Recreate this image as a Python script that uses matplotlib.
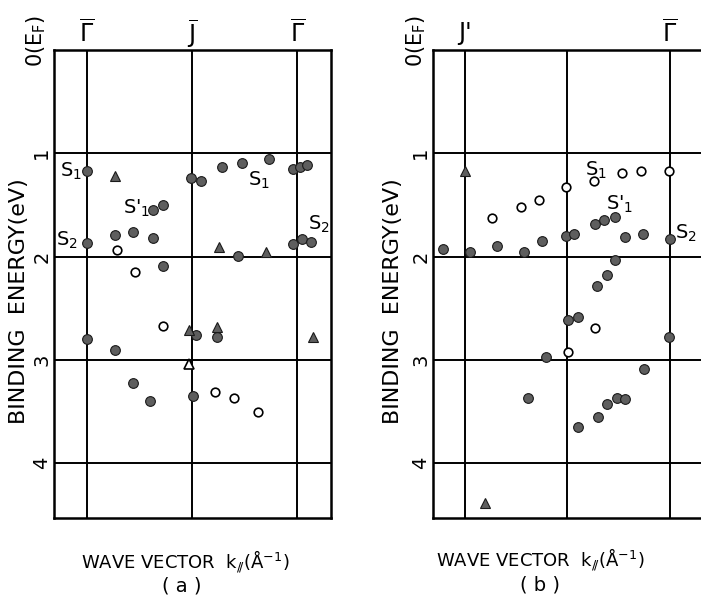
import numpy as np
import matplotlib
matplotlib.use('Agg')
import matplotlib.pyplot as plt
import matplotlib.transforms as mtrans

plt.rcParams['font.family'] = ['DejaVu Sans']
plt.rcParams['mathtext.fontset'] = 'dejavusans'

# panel (a) data, x in units of symmetry-point spacing (G=0, J=1, G=2)
a_fill_x = [0.0, 0.99, 1.08, 1.28, 1.47, 1.73, 1.96, 2.03, 2.09, 0.63, 0.72, 0.27, 0.44, 0.63,
            0.0, 1.96, 2.05, 2.13, 1.44, 0.72, 0.0, 0.27, 0.44, 0.60, 1.04, 1.24, 1.01]
a_fill_y = [1.17, 1.24, 1.27, 1.13, 1.09, 1.06, 1.15, 1.13, 1.11, 1.55, 1.50, 1.79, 1.76, 1.82,
            1.87, 1.88, 1.83, 1.86, 1.99, 2.09, 2.80, 2.90, 3.22, 3.40, 2.76, 2.78, 3.35]
a_open_x = [0.29, 0.46, 0.72, 1.22, 1.40, 1.63]
a_open_y = [1.94, 2.15, 2.67, 3.31, 3.37, 3.50]
a_tri_x = [0.27, 1.26, 1.70, 0.97, 1.24, 2.15]
a_tri_y = [1.22, 1.91, 1.96, 2.71, 2.68, 2.78]
a_otri_x = [0.97]
a_otri_y = [3.04]

# panel (b) data (J'=0, G=2)
b_fill_x = [-0.21, 0.05, 0.31, 0.58, 0.75, 0.99, 1.07, 1.27, 1.36, 1.47, 1.56, 1.74, 2.0, 1.47,
            1.39, 1.29, 1.01, 1.10, 0.79, 0.62, 1.10, 1.30, 1.39, 1.48, 1.56, 1.75, 1.99]
b_fill_y = [1.93, 1.96, 1.90, 1.96, 1.85, 1.80, 1.78, 1.68, 1.65, 1.62, 1.81, 1.78, 1.83, 2.03,
            2.18, 2.28, 2.61, 2.58, 2.97, 3.37, 3.65, 3.55, 3.43, 3.37, 3.38, 3.09, 2.78]
b_open_x = [1.99, 1.72, 1.53, 1.26, 0.99, 0.72, 0.55, 0.27, 1.27, 1.01]
b_open_y = [1.17, 1.17, 1.19, 1.27, 1.33, 1.45, 1.52, 1.63, 2.69, 2.92]
b_tri_x = [0.0, 0.2]
b_tri_y = [1.17, 4.38]

ytick_vals = [1, 2, 3, 4]
ytick_labels = ['1', '2', '3', '4']
a_sym_x = [0, 1, 2]
a_sym_labels = [r'$\overline{\Gamma}$', r'$\overline{\mathrm{J}}$', r'$\overline{\Gamma}$']
b_sym_x = [0, 2]
b_sym_labels = ["J'", r'$\overline{\Gamma}$']

a_lbl = [('S$_1$', -0.26, 1.18), ('S$_2$', -0.29, 1.84), ("S'$_1$", 0.34, 1.53),
         ('S$_1$', 1.53, 1.26), ('S$_2$', 2.10, 1.69)]
b_lbl = [('S$_1$', 1.17, 1.17), ("S'$_1$", 1.38, 1.49), ('S$_2$', 2.05, 1.78)]

FILL = '#5e5e5e'
EDGE = '#1a1a1a'

fig = plt.figure(figsize=(7.01, 6.01), dpi=100)
axa = fig.add_axes([0.077, 0.138, 0.395, 0.779])
axb = fig.add_axes([0.6177, 0.138, 0.389, 0.779])


def setup(ax, xlim, sym_x, sym_labels):
    ax.set_xlim(*xlim)
    ax.set_ylim(4.53, 0)
    for x in [0, 1, 2]:
        ax.axvline(x, color='black', lw=1.4, zorder=1)
    for y in ytick_vals:
        ax.axhline(y, color='black', lw=1.4, zorder=1)
    ax.set_xticks([])
    ax.set_yticks(ytick_vals)
    ax.set_yticklabels(ytick_labels, rotation=90, fontsize=14, va='center')
    ax.tick_params(axis='y', length=0, pad=2)
    for s in ax.spines.values():
        s.set_linewidth(1.8)
    tr = mtrans.blended_transform_factory(ax.transData, ax.transAxes)
    for x, t in zip(sym_x, sym_labels):
        ax.text(x, 1.035, t, transform=tr, ha='center', va='center', fontsize=17)
    ax.text(-0.063, 1.02, '0(E$_\\mathrm{F}$)', transform=ax.transAxes, rotation=90,
            ha='center', va='center', fontsize=15)


setup(axa, (-0.314, 2.32), a_sym_x, a_sym_labels)
setup(axb, (-0.31, 2.35), b_sym_x, b_sym_labels)

ms = 7
axa.plot(a_fill_x, a_fill_y, 'o', ms=ms, mfc=FILL, mec=EDGE, mew=0.8, zorder=3)
axa.plot(a_open_x, a_open_y, 'o', ms=6.2, mfc='white', mec='black', mew=1.2, zorder=3)
axa.plot(a_tri_x, a_tri_y, '^', ms=7, mfc=FILL, mec=EDGE, mew=0.8, zorder=3)
axa.plot(a_otri_x, a_otri_y, '^', ms=7, mfc='white', mec='black', mew=1.2, zorder=3)

axb.plot(b_fill_x, b_fill_y, 'o', ms=ms, mfc=FILL, mec=EDGE, mew=0.8, zorder=3)
axb.plot(b_open_x, b_open_y, 'o', ms=6.2, mfc='white', mec='black', mew=1.2, zorder=3)
axb.plot(b_tri_x, b_tri_y, '^', ms=7, mfc=FILL, mec=EDGE, mew=0.8, zorder=3)

for t, x, y in a_lbl:
    axa.text(x, y, t, fontsize=14, ha='left', va='center')
for t, x, y in b_lbl:
    axb.text(x, y, t, fontsize=14, ha='left', va='center')

# axis titles
for xc in [19 / 701, 393 / 701]:
    fig.text(xc, 1 - 301 / 601, 'BINDING  ENERGY(eV)', rotation=90, ha='center', va='center',
             fontsize=16)
xl = r'WAVE VECTOR  k$_{/\!/}$(Å$^{-1}$)'
fig.text(185 / 701, 1 - 562 / 601, xl, ha='center', va='center', fontsize=13)
fig.text(182 / 701, 1 - 586 / 601, '( a )', ha='center', va='center', fontsize=14)
fig.text(540 / 701, 1 - 560 / 601, xl, ha='center', va='center', fontsize=13)
fig.text(540 / 701, 1 - 585 / 601, '( b )', ha='center', va='center', fontsize=14)

fig.savefig('out.png', dpi=100)
